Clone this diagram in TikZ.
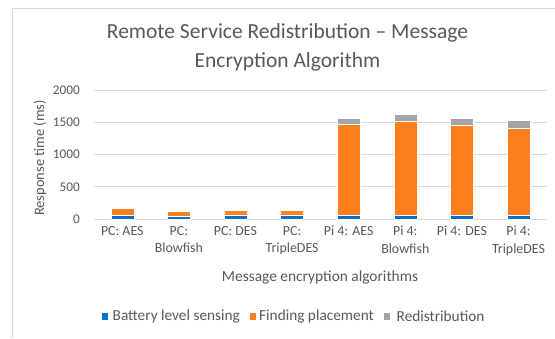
\documentclass[tikz,border=0pt]{standalone}
\usepackage{fontspec}
\setmainfont{Carlito}
\definecolor{txt}{HTML}{595959}
\definecolor{gridc}{HTML}{D9D9D9}
\definecolor{frame}{HTML}{D9D9D9}
\definecolor{sblue}{HTML}{0A6ED1}
\definecolor{sorange}{HTML}{FF7F1E}
\definecolor{sgray}{HTML}{A5A5A5}
\tikzset{
  lbl/.style={text=txt, inner sep=0pt},
  ticklbl/.style={lbl, font=\fontsize{13.3}{15}\selectfont, anchor=east},
  catlbl/.style={lbl, font=\fontsize{13.9}{17.5}\selectfont, align=center, anchor=north},
  leglbl/.style={lbl, font=\fontsize{15.3}{17}\selectfont, anchor=west},
  seg/.style={draw=white, line width=0.5pt},
  legkey/.style={minimum size=6.5pt, inner sep=0pt, draw=none}
}
% value (ms) -> vertical position
\newcommand{\vy}[1]{119+#1*0.0645}
\begin{document}
\begin{tikzpicture}[x=1pt,y=1pt]
\useasboundingbox (0,0) rectangle (555,338);
\fill[white] (0,0) rectangle (555,338);
% chart frame
\draw[frame, line width=0.8pt] (12,0) -- (12,330) -- (555,330);
% title
\node[lbl, font=\fontsize{21.5}{29}\selectfont, align=center] (title) at (287.5,290.5)
  {Remote Service Redistribution -- Message\\Encryption Algorithm};
% grid and value labels
\foreach \v in {0,500,1000,1500,2000} {
  \draw[gridc, line width=0.8pt] (94,{\vy{\v}}) -- (547,{\vy{\v}});
  \node[ticklbl] (tick\v) at (80,{\vy{\v}}) {\v};
}
% axis titles
\node[lbl, font=\fontsize{14.5}{16}\selectfont, rotate=90] (ytitle) at (40,180) {Response time (ms)};
\node[lbl, font=\fontsize{15.4}{17}\selectfont] (xtitle) at (320,61) {Message encryption algorithms};
% stacked bars: index / battery / placement / redistribution / label
\foreach \i/\b/\f/\r/\t in {
  0/60/100/15/{PC: AES},
  1/45/75/10/{PC:\\Blowfish},
  2/60/80/12/{PC: DES},
  3/55/78/15/{PC:\\TripleDES},
  4/55/1420/90/{Pi 4: AES},
  5/55/1455/115/{Pi 4:\\Blowfish},
  6/55/1395/115/{Pi 4: DES},
  7/55/1345/125/{Pi 4:\\TripleDES}} {
  \pgfmathsetmacro{\cx}{122.3+56.6*\i}
  \pgfmathsetmacro{\ya}{\vy{0}}
  \pgfmathsetmacro{\yb}{\vy{\b}}
  \pgfmathsetmacro{\yc}{\vy{(\b+\f)}}
  \pgfmathsetmacro{\yd}{\vy{(\b+\f+\r)}}
  \fill[sblue]   (\cx-11.5,\ya) rectangle (\cx+11.5,\yb);
  \fill[sorange] (\cx-11.5,\yb) rectangle (\cx+11.5,\yc);
  \fill[sgray]   (\cx-11.5,\yc) rectangle (\cx+11.5,\yd);
  \draw[seg] (\cx-11.5,\ya) rectangle (\cx+11.5,\yd);
  \draw[seg] (\cx-11.5,\yb) -- (\cx+11.5,\yb);
  \draw[seg] (\cx-11.5,\yc) -- (\cx+11.5,\yc);
  \node[catlbl] (cat\i) at (\cx,112) {\t};
}
% legend
\node[legkey, fill=sblue] (k1) at (105,21.3) {};
\node[leglbl] (l1) at (112.5,21.3) {Battery level sensing};
\node[legkey, fill=sorange] (k2) at (253,21.3) {};
\node[leglbl] (l2) at (259,21.3) {Finding placement};
\node[legkey, fill=sgray] (k3) at (387,21.3) {};
\node[leglbl] (l3) at (396.5,21.3) {Redistribution};
\end{tikzpicture}
\end{document}
